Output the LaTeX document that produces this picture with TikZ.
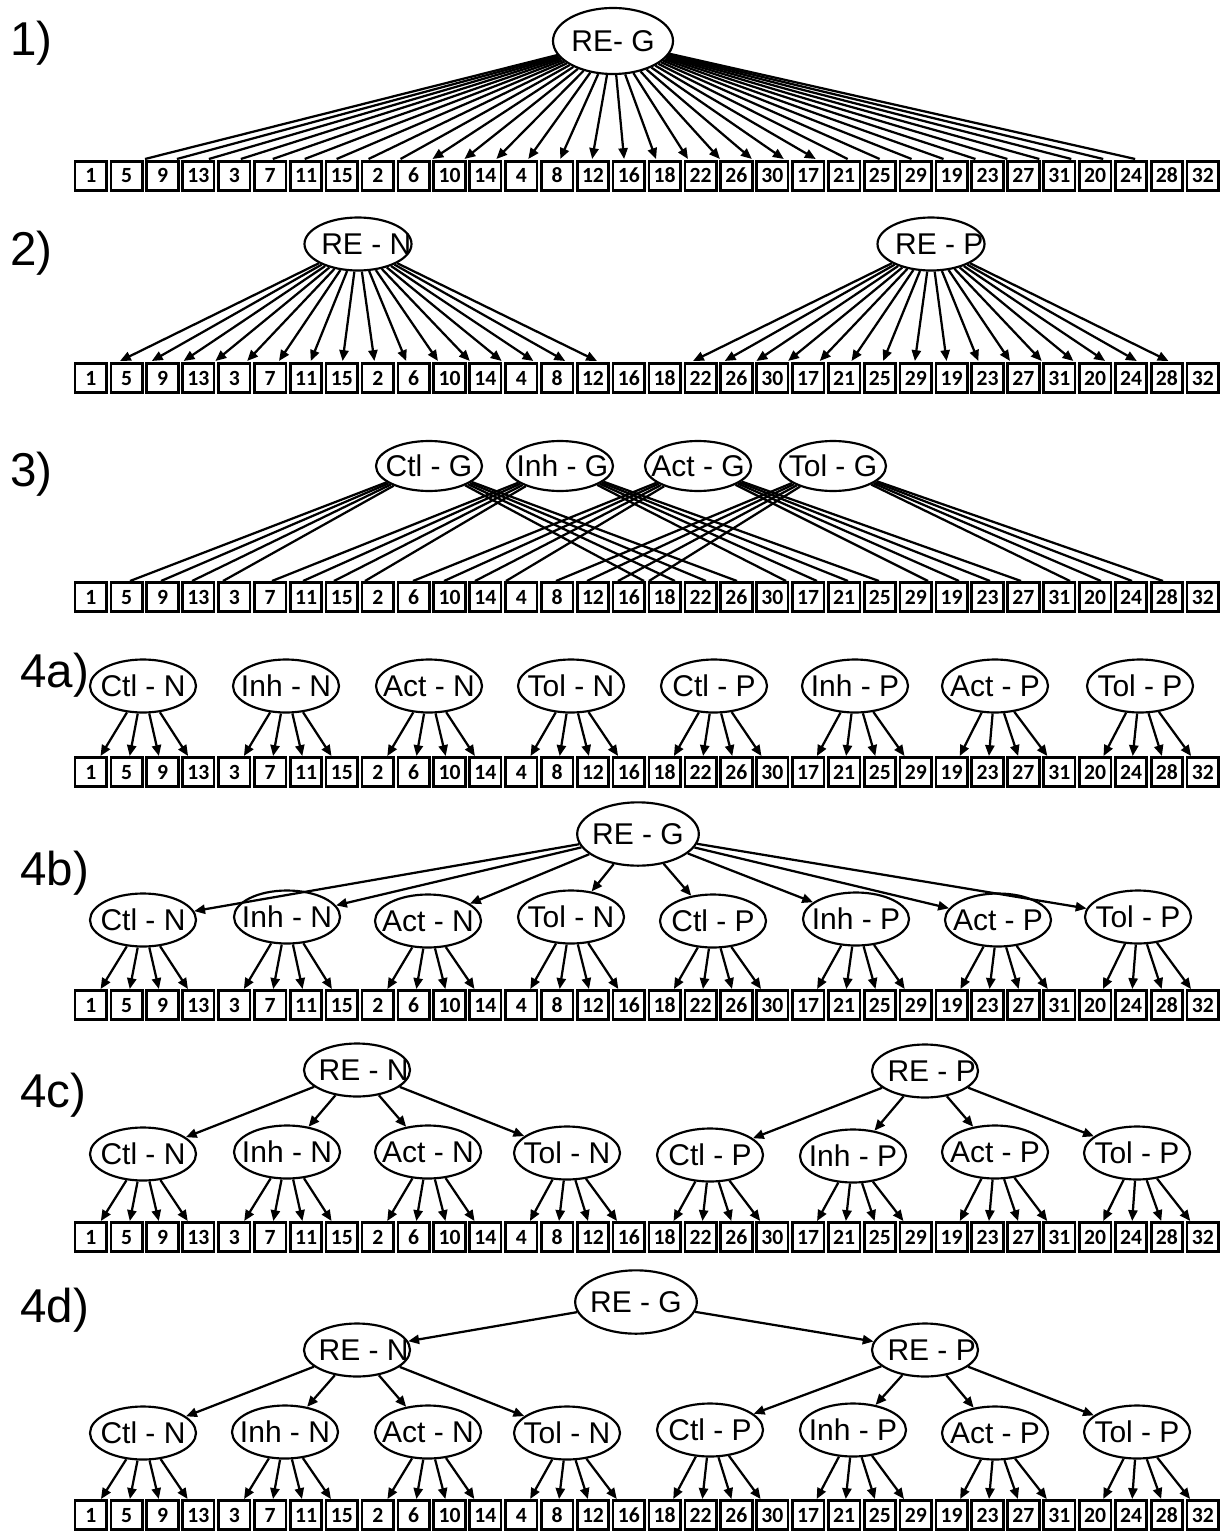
\documentclass[tikz,border=0pt]{standalone}
\usepackage{fontspec}
\setmainfont{Liberation Sans}
\newfontfamily\boxfont{Carlito}
\usetikzlibrary{shapes.geometric,arrows.meta}
\newcommand\elab[1]{\makebox[0pt]{#1}}
\newcommand\boxrow[2]{%
  \foreach \lab [count=\i] in {1,5,9,13,3,7,11,15,2,6,10,14,4,8,12,16,18,22,26,30,17,21,25,29,19,23,27,31,20,24,28,32}
    {\node[numbox] (b#1-\i) at ({90.8+35.87*(\i-1)},#2) {\lab};}}
\begin{document}
\begin{tikzpicture}[x=0.6pt,y=-0.6pt,
  numbox/.style={draw,line width=1.6pt,minimum width=18.9pt,minimum height=17.6pt,inner sep=0pt,
    text height=8.4pt,text depth=0pt,
    font=\boxfont\bfseries\fontsize{13}{14}\selectfont},
  ell/.style={ellipse,draw,line width=1.3pt,inner sep=0pt,minimum width=63.6pt,minimum height=31.8pt,
    font=\fontsize{18}{20}\selectfont},
  bigell/.style={ell,minimum width=73pt,minimum height=38pt},
  arr/.style={line width=1.35pt,-{Triangle[length=6.5pt,width=5.5pt]}},
  ln/.style={line width=1.35pt},
  plab/.style={anchor=base west,inner sep=0pt,font=\fontsize{28.5}{30}\selectfont}]
\useasboundingbox (0,0) rectangle (1225,1533);

% ---------- panel labels
\node[plab] (l1) at (10,56) {1)};
\node[plab] (l2) at (10,266) {2)};
\node[plab] (l3) at (10,486) {3)};
\node[plab] (l4a) at (20,687) {4a)};
\node[plab] (l4b) at (20,885) {4b)};
\node[plab] (l4c) at (20,1107) {4c)};
\node[plab] (l4d) at (20,1322) {4d)};

% ---------- box rows
\boxrow{1}{176}
\boxrow{2}{378}
\boxrow{3}{597}
\boxrow{4a}{772}
\boxrow{4b}{1005}
\boxrow{4c}{1237}
\boxrow{4d}{1515}

% ---------- panel 1
\node[bigell,minimum width=72pt,minimum height=39.6pt] (p1g) at (613,41) {\elab{RE- G}};
\foreach \k in {0,...,31}{
  \pgfmathsetmacro\tx{145+31.94*\k}
  \coordinate (t1-\k) at (\tx,159);
  \pgfmathtruncatemacro\hd{abs(\tx-613)<210}
  \ifnum\hd=1 \draw[arr] (p1g) -- (t1-\k); \else \draw[ln] (p1g) -- (t1-\k); \fi
}

% ---------- panel 2
\node[ell,minimum width=64.2pt] (p2n) at (358,244) {\elab{\hspace{10pt}RE - N}};
\node[ell,minimum width=64.2pt] (p2p) at (931,244) {\elab{\hspace{10pt}RE - P}};
\foreach \k in {0,...,15}{
  \coordinate (t2n-\k) at ({120+31.8*\k},361);
  \coordinate (t2p-\k) at ({693+31.7*\k},361);
  \draw[arr] (p2n) -- (t2n-\k);
  \draw[arr] (p2p) -- (t2p-\k);
}

% ---------- panel 3
\node[ell,minimum width=63.6pt,minimum height=30pt] (p3c) at (429,466) {\elab{Ctl - G}};
\node[ell,minimum width=63.6pt,minimum height=30pt] (p3i) at (560,466) {\elab{\hspace{3pt}Inh - G}};
\node[ell,minimum width=63.6pt,minimum height=30pt] (p3a) at (698,466) {\elab{Act - G}};
\node[ell,minimum width=63.6pt,minimum height=30pt] (p3t) at (833,466) {\elab{Tol - G}};
\foreach \nm/\lx/\rx in {p3c/130/644,p3i/272/786,p3a/413/928,p3t/556/1070}{
  \foreach \j in {0,...,3}{
    \coordinate (\nm-l\j) at ({\lx+31*\j},581);
    \coordinate (\nm-r\j) at ({\rx+31*\j},581);
    \draw[ln] (\nm) -- (\nm-l\j);
    \draw[ln] (\nm) -- (\nm-r\j);
  }
}

% ---------- panel 4a
\foreach \lab/\x/\y [count=\g from 0] in {Ctl - N/143/686,Inh - N/286/686,Act - N/429/686,Tol - N/571/686,
                                 Ctl - P/714/686,Inh - P/855/686,Act - P/995/686,Tol - P/1140/686}{
  \node[ell] (a-\g) at (\x,\y) {\elab{\lab}};
  \foreach \j in {1,...,4}{
    \pgfmathtruncatemacro\k{4*\g+\j}
    \draw[arr] (a-\g) -- (b4a-\k);
  }
}

% ---------- panel 4b
\node[bigell] (brt) at (638,834) {\elab{RE - G}};
\foreach \lab/\x/\y [count=\g from 0] in {Ctl - N/143/920,Inh - N/287/917,Act - N/428/921,Tol - N/571/917,
                                 Ctl - P/713/921,Inh - P/856/919,Act - P/998/920,Tol - P/1138/917}{
  \node[ell] (bb-\g) at (\x,\y) {\elab{\lab}};
  \draw[arr] (brt) -- (bb-\g);
  \foreach \j in {1,...,4}{
    \pgfmathtruncatemacro\k{4*\g+\j}
    \draw[arr] (bb-\g) -- (b4b-\k);
  }
}

% ---------- panel 4c
\node[ell] (crn) at (357,1070) {\elab{\hspace{8pt}RE - N}};
\node[ell] (crp) at (925,1071) {\elab{\hspace{8pt}RE - P}};
\foreach \lab/\x/\y/\pn [count=\g from 0] in {Ctl - N/143/1154/crn,Inh - N/287/1152/crn,Act - N/428/1152/crn,Tol - N/567/1153/crn,
                                 Ctl - P/710/1155/crp,Inh - P/853/1156/crp,Act - P/995/1152/crp,Tol - P/1137/1153/crp}{
  \node[ell] (cc-\g) at (\x,\y) {\elab{\lab}};
  \draw[arr] (\pn) -- (cc-\g);
  \foreach \j in {1,...,4}{
    \pgfmathtruncatemacro\k{4*\g+\j}
    \draw[arr] (cc-\g) -- (b4c-\k);
  }
}

% ---------- panel 4d
\node[bigell] (drt) at (636,1302) {\elab{RE - G}};
\node[ell] (drn) at (357,1350) {\elab{\hspace{8pt}RE - N}};
\node[ell] (drp) at (925,1350) {\elab{\hspace{8pt}RE - P}};
\draw[arr] (drt) -- (drn);
\draw[arr] (drt) -- (drp);
\foreach \lab/\x/\y/\pn [count=\g from 0] in {Ctl - N/143/1433/drn,Inh - N/285/1432/drn,Act - N/428/1432/drn,Tol - N/567/1433/drn,
                                 Ctl - P/710/1430/drp,Inh - P/853/1430/drp,Act - P/995/1433/drp,Tol - P/1137/1432/drp}{
  \node[ell] (dd-\g) at (\x,\y) {\elab{\lab}};
  \draw[arr] (\pn) -- (dd-\g);
  \foreach \j in {1,...,4}{
    \pgfmathtruncatemacro\k{4*\g+\j}
    \draw[arr] (dd-\g) -- (b4d-\k);
  }
}
\end{tikzpicture}
\end{document}
